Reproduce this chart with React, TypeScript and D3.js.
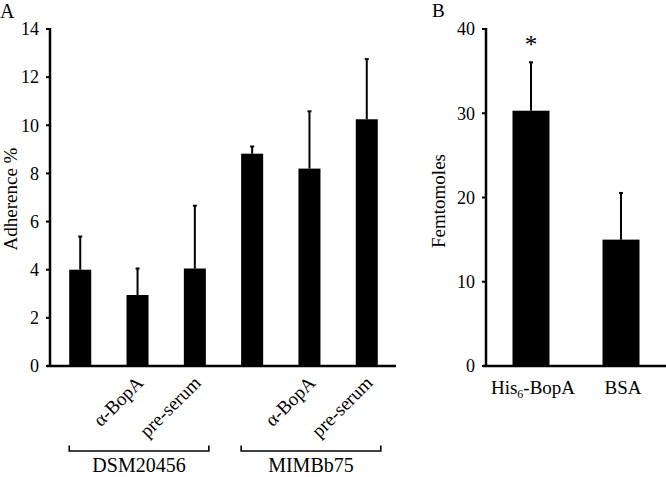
import React from "react";
import * as d3 from "d3";

// Panel A data
const groupsA = ["DSM20456", "MIMBb75"];
const labelsA = ["", "α-BopA", "pre-serum", "", "α-BopA", "pre-serum"];
const valuesA = [4.0, 2.95, 4.05, 8.82, 8.2, 10.25];
const errorsA = [1.4, 1.12, 2.63, 0.32, 2.4, 2.52];
const ticksA = [0, 2, 4, 6, 8, 10, 12, 14];

// Panel B data
const labelsB = ["His6-BopA", "BSA"];
const valuesB = [30.3, 15.0];
const errorsB = [5.8, 5.6];
const ticksB = [0, 10, 20, 30, 40];

const W = 666;
const H = 477;
const FONT = "'Liberation Serif', 'Times New Roman', serif";

export default function App() {
  const y0 = 366;
  const yTop = 29;

  const yA = d3.scaleLinear().domain([0, 14]).range([y0, yTop]);
  const xA = d3
    .scaleBand<number>()
    .domain(d3.range(valuesA.length))
    .range([51, 396])
    .paddingInner(0.616)
    .paddingOuter(0.318);
  const axA = 50;

  const yB = d3.scaleLinear().domain([0, 40]).range([y0, yTop]);
  const xB = d3
    .scaleBand<number>()
    .domain(d3.range(valuesB.length))
    .range([486, 666])
    .paddingInner(0.589)
    .paddingOuter(0.2945);
  const axB = 486;

  const bwA = xA.bandwidth();
  const bwB = xB.bandwidth();

  return (
    <svg
      width={W}
      height={H}
      style={{ position: "absolute", left: 0, top: 0, display: "block", background: "#fff" }}
      fontFamily={FONT}
    >
      {/* Panel letters */}
      <text x={0} y={18} fontSize={20}>A</text>
      <text x={432} y={17} fontSize={19}>B</text>

      {/* ===== Panel A ===== */}
      {valuesA.map((v, i) => {
        const cx = xA(i)! + bwA / 2;
        const top = yA(v + errorsA[i]);
        return (
          <g key={"a" + i}>
            <rect x={xA(i)!} y={yA(v)} width={bwA} height={y0 - yA(v)} fill="#000" />
            <line x1={cx} x2={cx} y1={yA(v)} y2={top} stroke="#000" strokeWidth={2} />
            <line x1={cx - 2} x2={cx + 2} y1={top + 0.5} y2={top + 0.5} stroke="#000" strokeWidth={2} />
          </g>
        );
      })}
      {/* axes A */}
      <line x1={axA} x2={axA} y1={yA(14) - 1} y2={y0 + 1} stroke="#000" strokeWidth={2.5} />
      <line x1={axA - 3} x2={396} y1={y0} y2={y0} stroke="#000" strokeWidth={2.5} />
      {ticksA.map((t) => (
        <g key={"ta" + t}>
          <line x1={axA - 4} x2={axA} y1={yA(t)} y2={yA(t)} stroke="#000" strokeWidth={2} />
          <text x={axA - 11} y={yA(t)} dy="0.35em" textAnchor="end" fontSize={18}>
            {t}
          </text>
        </g>
      ))}
      <text transform={`translate(17,199) rotate(-90)`} textAnchor="middle" fontSize={19}>
        Adherence %
      </text>
      {labelsA.map((l, i) =>
        l ? (
          <text
            key={"la" + i}
            transform={`translate(${xA(i)! + bwA / 2 + 7},${384}) rotate(-45)`}
            textAnchor="end"
            fontSize={19}
          >
            {l}
          </text>
        ) : null
      )}
      {groupsA.map((g, gi) => {
        const x1 = xA(gi * 3)!;
        const x2 = xA(gi * 3 + 2)! + bwA + 3;
        return (
          <g key={"g" + gi}>
            <path
              d={`M${x1},445.5V451H${x2}V445.5`}
              fill="none"
              stroke="#000"
              strokeWidth={1.6}
            />
            <text x={(x1 + x2) / 2} y={472} textAnchor="middle" fontSize={20}>
              {g}
            </text>
          </g>
        );
      })}

      {/* ===== Panel B ===== */}
      {valuesB.map((v, i) => {
        const cx = xB(i)! + bwB / 2;
        const top = yB(v + errorsB[i]);
        return (
          <g key={"b" + i}>
            <rect x={xB(i)!} y={yB(v)} width={bwB} height={y0 - yB(v)} fill="#000" />
            <line x1={cx} x2={cx} y1={yB(v)} y2={top} stroke="#000" strokeWidth={2} />
            <line x1={cx - 2} x2={cx + 2} y1={top + 0.5} y2={top + 0.5} stroke="#000" strokeWidth={2} />
          </g>
        );
      })}
      <text x={xB(0)! + bwB / 2} y={53} textAnchor="middle" fontSize={25}>*</text>
      <line x1={axB} x2={axB} y1={yB(40) - 1} y2={y0 + 1} stroke="#000" strokeWidth={2.5} />
      <line x1={axB - 3} x2={666} y1={y0} y2={y0} stroke="#000" strokeWidth={2.5} />
      {ticksB.map((t) => (
        <g key={"tb" + t}>
          <line x1={axB - 4} x2={axB} y1={yB(t)} y2={yB(t)} stroke="#000" strokeWidth={2} />
          <text x={axB - 11} y={yB(t)} dy="0.35em" textAnchor="end" fontSize={18}>
            {t}
          </text>
        </g>
      ))}
      <text transform={`translate(445,201) rotate(-90)`} textAnchor="middle" fontSize={19}>
        Femtomoles
      </text>
      {labelsB.map((l, i) => {
        const cx = xB(i)! + bwB / 2 + 2;
        if (l.startsWith("His6")) {
          return (
            <text key={"lb" + i} x={cx} y={394} textAnchor="middle" fontSize={19}>
              <tspan>His</tspan>
              <tspan dy={4} fontSize={12}>6</tspan>
              <tspan dy={-4}>{l.slice(4)}</tspan>
            </text>
          );
        }
        return (
          <text key={"lb" + i} x={cx} y={394} textAnchor="middle" fontSize={19}>
            {l}
          </text>
        );
      })}
    </svg>
  );
}
